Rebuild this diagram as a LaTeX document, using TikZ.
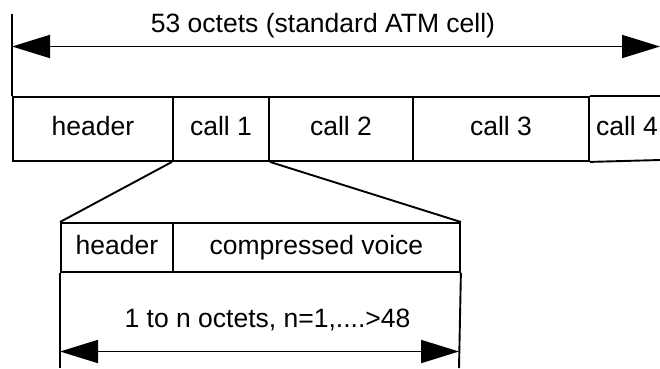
\documentclass[tikz,border=0pt]{standalone}
\usepackage{fontspec}
\setmainfont{Liberation Sans}
\usetikzlibrary{arrows.meta}
\begin{document}
\begin{tikzpicture}[x=1pt,y=-1pt,
  line width=1.9pt,
  font=\fontsize{26.5}{30}\selectfont,
  cellbox/.style={draw, rectangle, inner sep=0pt, anchor=north west,
    text height=19pt, text depth=5pt},
  plainlabel/.style={inner sep=0pt, anchor=base},
  dimarrow/.style={{Triangle[length=38pt,width=23pt]}-{Triangle[length=38pt,width=23pt]}}
]
\useasboundingbox (0,0) rectangle (660,368);

% ATM cell row
\node[cellbox, minimum width=160pt, minimum height=64pt] (hdr) at (12,96) {header};
\node[cellbox, minimum width=96pt, minimum height=64pt] (c1) at (172,96) {call 1};
\node[cellbox, minimum width=144pt, minimum height=64pt] (c2) at (268,96) {call 2};
\node[cellbox, minimum width=176pt, minimum height=64pt] (c3) at (412,96) {call 3};
\node[plainlabel] (c4) at (627,135) {call 4};
\coordinate (c4top) at (660,96);
\coordinate (c4bot) at (660,160);
\draw (c3.north east) -- (c4top);
\draw (c3.south east) -- (c4bot);

% cell length dimension
\coordinate (leftTop) at (12,14);
\coordinate (arrL) at (12,46.5);
\coordinate (arrR) at (660,46.5);
\draw (leftTop) -- (hdr.north west);
\draw[dimarrow] (arrL) -- (arrR);
\node[plainlabel] (celllabel) at (323,32) {53 octets (standard ATM cell)};

% expanded mini-packet
\node[cellbox, minimum width=112pt, minimum height=49pt] (mhdr) at (60,222) {header};
\node[cellbox, minimum width=287pt, minimum height=49pt] (voice) at (172,222) {compressed voice};
\draw (c1.south west) -- (mhdr.north west);
\draw (c1.south east) -- (voice.north east);

% mini-packet length dimension
\coordinate (lowL) at (60,368);
\coordinate (lowR) at (459,368);
\coordinate (arr2L) at (60,351.5);
\coordinate (arr2R) at (459,351.5);
\draw (mhdr.south west) -- (lowL);
\draw (voice.south east) -- (lowR);
\draw[dimarrow] (arr2L) -- (arr2R);
\node[plainlabel] (lenlabel) at (267.5,327) {1 to n octets, n=1,....>48};
\end{tikzpicture}
\end{document}
